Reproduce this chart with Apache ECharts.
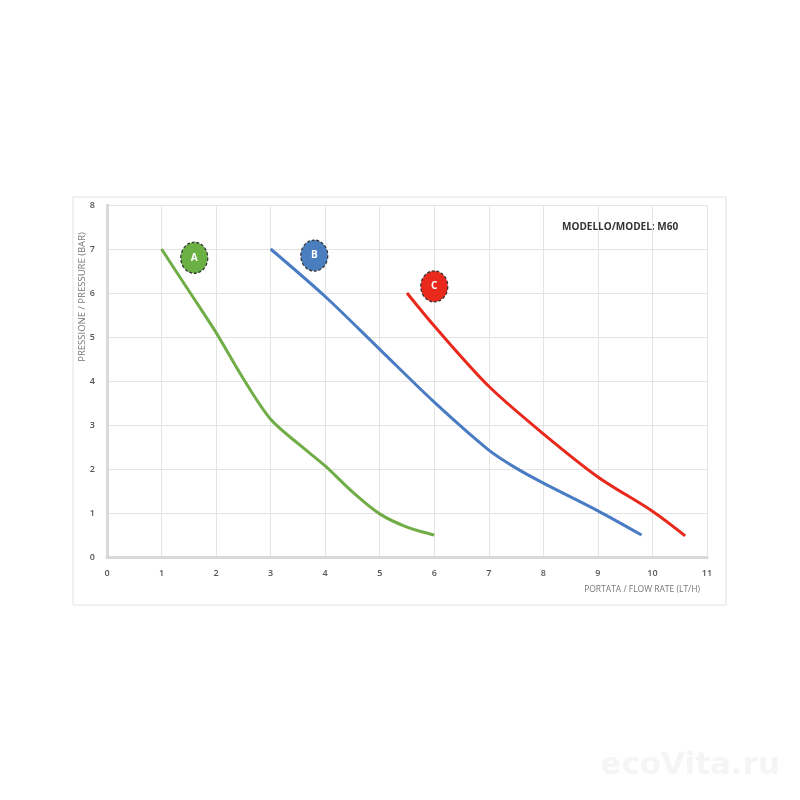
<!DOCTYPE html>
<html><head><meta charset="utf-8">
<script src="https://cdn.jsdelivr.net/npm/echarts@6/dist/echarts.min.js"></script>
<style>html,body{margin:0;padding:0;background:#fff}#c{width:800px;height:800px}</style>
</head><body><div id="c"></div>
<script>
const xTicks = [0,1,2,3,4,5,6,7,8,9,10,11];
const yTicks = [0,1,2,3,4,5,6,7,8];
const curveA = [[1,7],[1.5,6.05],[2,5.1],[2.5,4.05],[3,3.13],[3.5,2.58],[4,2.07],[4.5,1.48],[5,0.98],[5.5,0.68],[6,0.5]];
const curveB = [[3,7],[4,5.92],[5,4.72],[6,3.52],[7,2.43],[7.5,2.02],[8,1.68],[9,1.05],[9.8,0.5]];
const curveC = [[5.5,6.0],[6,5.25],[7,3.88],[8,2.8],[9,1.82],[10,1.04],[10.6,0.48]];
const badges = [{name:'A',value:[1.6,6.8]},{name:'B',value:[3.8,6.85]},{name:'C',value:[6.0,6.15]}];
const badgeColors = ['#6ab045','#4a7ebe','#e8291c'];
const lineColors = ['#70ad47','#4a7cc4','#e8291c'];
const title = 'MODELLO/MODEL: M60';
const xName = 'PORTATA / FLOW RATE (LT/H)';
const yName = 'PRESSIONE / PRESSURE (BAR)';

const chart = echarts.init(document.getElementById('c'));
const lbl = {color:'#555', fontSize:9, fontFamily:'Open Sans', fontWeight:600};
const lineSeries = (data, color) => ({type:'line',data,smooth:0.3,symbol:'none',lineStyle:{color,width:3}});
chart.setOption({
  animation:false,
  backgroundColor:'#fff',
  grid:{left:107,right:93,top:205,bottom:243},
  xAxis:{type:'value',min:0,max:11,interval:1,
    axisLine:{lineStyle:{color:'#d9d9d9',width:3}},
    axisTick:{show:false},
    axisLabel:Object.assign({margin:12,formatter:v=>xTicks.includes(v)?String(v):''},lbl),
    splitLine:{lineStyle:{color:'#e4e4e4',width:1}}
  },
  yAxis:{type:'value',min:0,max:8,interval:1,
    axisLine:{show:true,lineStyle:{color:'#d9d9d9',width:3}},
    axisTick:{show:false},
    axisLabel:Object.assign({margin:12,formatter:v=>yTicks.includes(v)?String(v):''},lbl),
    splitLine:{lineStyle:{color:'#e4e4e4',width:1}}
  },
  graphic:[
    {type:'rect',shape:{x:73,y:197,width:653,height:408},style:{fill:'none',stroke:'#e2e2e2',lineWidth:1},z:-10},
    {type:'text',x:82,y:297,rotation:Math.PI/2,style:{text:yName,fill:'#777',fontSize:9.5,fontFamily:'Open Sans',align:'center',verticalAlign:'middle'}},
    {type:'text',x:700,y:590,style:{text:xName,fill:'#777',fontSize:8.5,fontFamily:'Open Sans',align:'right',verticalAlign:'middle'}},
    {type:'text',x:562,y:227,style:{text:title,fill:'#333',fontSize:10,fontWeight:'bold',fontFamily:'Open Sans',verticalAlign:'middle'}},
    {type:'text',x:780,y:766,style:{text:'ecoVita.ru',fill:'#f5f5f5',fontSize:31,fontWeight:'bold',fontFamily:'DejaVu Sans',align:'right',verticalAlign:'middle'}}
  ],
  series:[
    lineSeries(curveA, lineColors[0]),
    lineSeries(curveB, lineColors[1]),
    lineSeries(curveC, lineColors[2]),
    {type:'scatter',data:badges.map((b,i)=>({name:b.name,value:b.value,itemStyle:{color:badgeColors[i],opacity:1}})),
      symbol:'circle',symbolSize:[27,31],z:5,
      itemStyle:{borderColor:'#333',borderWidth:1.3,borderType:[3,2],opacity:1},
      label:{show:true,position:'inside',formatter:p=>p.name,color:'#fff',fontSize:10,fontWeight:'bold',fontFamily:'Open Sans'}}
  ]
});
</script></body></html>
